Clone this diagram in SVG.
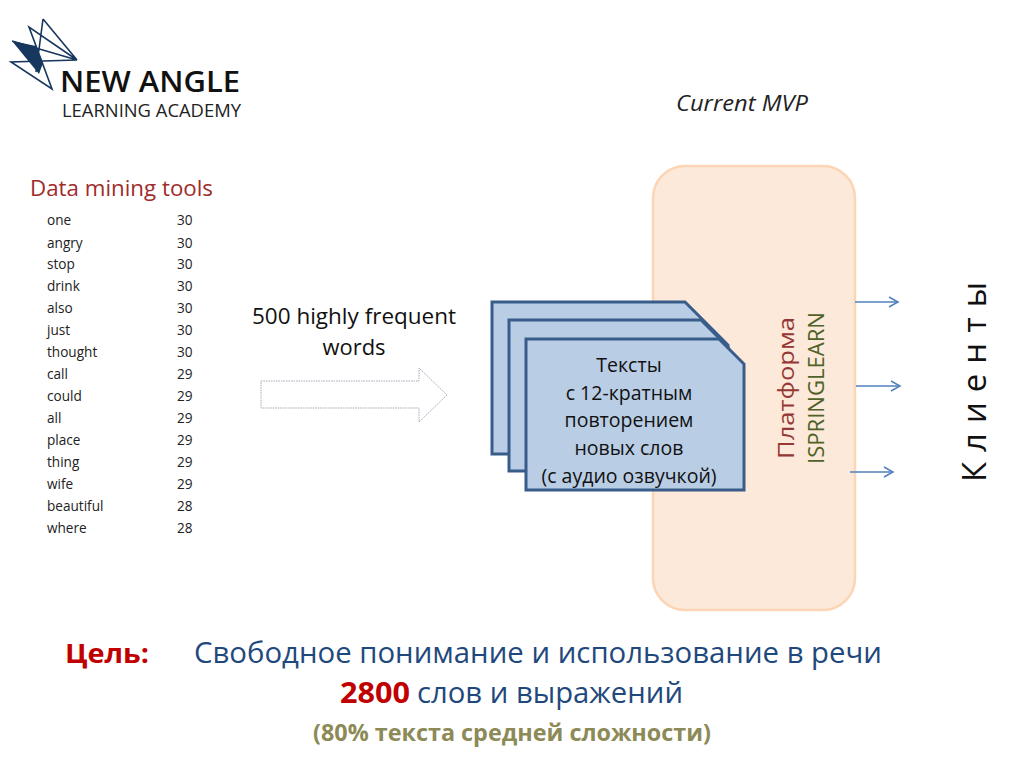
<svg xmlns="http://www.w3.org/2000/svg" width="1024" height="768" viewBox="0 0 1024 768">
<defs>
<marker id="ah" markerWidth="12" markerHeight="12" refX="10" refY="6" orient="auto" markerUnits="userSpaceOnUse"><path d="M1 1L10 6L1 11" fill="none" stroke="#4f81bd" stroke-width="1.500"/></marker>
</defs>
<style>
text{font-family:"Open Sans","Noto Sans","Liberation Sans",sans-serif}
.w{font-size:13.600px;fill:#222}
.d{fill:#b9cde5;stroke:#385d8a;stroke-width:3}
.t{font-size:19.500px;fill:#111;text-anchor:middle}
.l{fill:none;stroke:#17375e;stroke-width:1.600}
.a{fill:none;stroke:#4f81bd;stroke-width:1.600;marker-end:url(#ah)}
</style>
<rect width="1024" height="768" fill="#fff"/>
<g id="logo">
<path d="M12 41L36 46L43 63L39 74Z" fill="#17375e"/>
<path class="l" d="M43 19L77 60L29 27L52 89L11 62L77 60L12 41M43 19L36 72"/>
<text x="60" y="92" font-size="29.500" font-weight="600" fill="#111" textLength="180" lengthAdjust="spacingAndGlyphs">NEW ANGLE</text>
<text x="62" y="117" font-size="17.500" fill="#222" textLength="179" lengthAdjust="spacingAndGlyphs">LEARNING ACADEMY</text>
</g>
<text id="mvp" x="742" y="111" font-size="21" font-style="italic" fill="#222" text-anchor="middle" textLength="132" lengthAdjust="spacingAndGlyphs">Current MVP</text>
<g id="tools">
<text x="30" y="196" font-size="21.500" fill="#a02b2b" textLength="183" lengthAdjust="spacingAndGlyphs">Data mining tools</text>
<g class="w">
<text x="47" y="225">one</text><text x="177" y="225">30</text>
<text x="47" y="248">angry</text><text x="177" y="248">30</text>
<text x="47" y="269">stop</text><text x="177" y="269">30</text>
<text x="47" y="291">drink</text><text x="177" y="291">30</text>
<text x="47" y="313">also</text><text x="177" y="313">30</text>
<text x="47" y="335">just</text><text x="177" y="335">30</text>
<text x="47" y="357">thought</text><text x="177" y="357">30</text>
<text x="47" y="379">call</text><text x="177" y="379">29</text>
<text x="47" y="401">could</text><text x="177" y="401">29</text>
<text x="47" y="423">all</text><text x="177" y="423">29</text>
<text x="47" y="445">place</text><text x="177" y="445">29</text>
<text x="47" y="467">thing</text><text x="177" y="467">29</text>
<text x="47" y="489">wife</text><text x="177" y="489">29</text>
<text x="47" y="511">beautiful</text><text x="177" y="511">28</text>
<text x="47" y="533">where</text><text x="177" y="533">28</text>
</g>
</g>
<g id="frequent">
<text x="354" y="324" font-size="21.500" fill="#111" text-anchor="middle" textLength="204" lengthAdjust="spacingAndGlyphs">500 highly frequent</text>
<text x="354" y="355" font-size="21.500" fill="#111" text-anchor="middle" textLength="63" lengthAdjust="spacingAndGlyphs">words</text>
<path d="M261 381H419V368L447 395L419 422V408H261Z" fill="#fff" stroke="#a6a6b8" stroke-width="1" stroke-dasharray="1.500 1"/>
</g>
<g id="platform">
<rect x="653" y="166" width="202" height="444" rx="32" fill="#fde9d9" stroke="#fbd5b5" stroke-width="2.500"/>
<text transform="translate(794 388) rotate(-90)" font-size="21" fill="#953735" text-anchor="middle" textLength="142" lengthAdjust="spacingAndGlyphs">Платформа</text>
<text transform="translate(824 388) rotate(-90)" font-size="21" fill="#4f6228" text-anchor="middle" textLength="152" lengthAdjust="spacingAndGlyphs">ISPRINGLEARN</text>
</g>
<g id="texts">
<path class="d" d="M492 302H685L728 345V454H492Z"/>
<path class="d" d="M509 320H701L728 347V471H509Z"/>
<path class="d" d="M526 339H719L744 364V490H526Z"/>
<text class="t" x="629" y="372">Тексты</text>
<text class="t" x="629" y="400">с 12-кратным</text>
<text class="t" x="629" y="427">повторением</text>
<text class="t" x="629" y="455">новых слов</text>
<text class="t" x="629" y="483">(с аудио озвучкой)</text>
</g>
<g id="connectors">
<path class="a" d="M855 302H898"/>
<path class="a" d="M856 386H900"/>
<path class="a" d="M850 472H893"/>
</g>
<text id="clients" transform="translate(986 482) rotate(-90)" font-size="33" fill="#111" textLength="200" lengthAdjust="spacing">Клиенты</text>
<g id="goal">
<text x="65" y="663" font-size="26" font-weight="700" fill="#c00000" textLength="84" lengthAdjust="spacingAndGlyphs">Цель:</text>
<text x="194" y="663" font-size="28.500" fill="#1f497d" textLength="688" lengthAdjust="spacingAndGlyphs">Свободное понимание и использование в речи</text>
<text x="340" y="703" font-size="28.500" font-weight="700" fill="#c00000" textLength="70" lengthAdjust="spacingAndGlyphs">2800</text>
<text x="417" y="703" font-size="28.500" fill="#1f497d" textLength="266" lengthAdjust="spacingAndGlyphs">слов и выражений</text>
<text x="512" y="741" font-size="24" font-weight="700" fill="#8c8a57" text-anchor="middle" textLength="398" lengthAdjust="spacingAndGlyphs">(80% текста средней сложности)</text>
</g>
</svg>
